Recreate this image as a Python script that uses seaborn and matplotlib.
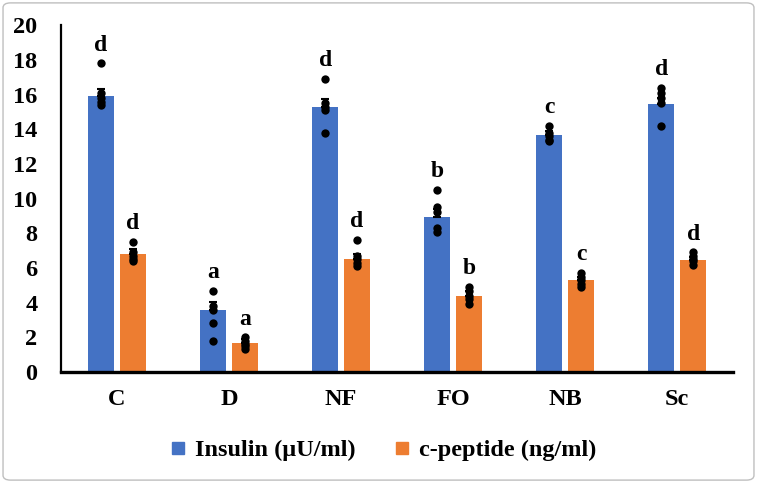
import numpy as np
import pandas as pd
import matplotlib
matplotlib.use("Agg")
import matplotlib.pyplot as plt
import seaborn as sns
from matplotlib.patches import FancyBboxPatch
from matplotlib.lines import Line2D

groups = ["C", "D", "NF", "FO", "NB", "Sc"]
series = ["Insulin (\u00b5U/ml)", "c-peptide (ng/ml)"]
insulin_mean = [15.9, 3.55, 15.3, 8.95, 13.65, 15.45]
cpep_mean = [6.8, 1.7, 6.5, 4.4, 5.3, 6.45]
insulin_err = [0.45, 0.5, 0.45, 0.45, 0.25, 0.35]
cpep_err = [0.3, 0.2, 0.3, 0.25, 0.2, 0.2]
insulin_pts = [
    [17.8, 16.1, 15.8, 15.6, 15.4],
    [4.7, 3.8, 3.6, 2.8, 1.8],
    [16.9, 15.5, 15.3, 15.1, 13.8],
    [10.5, 9.5, 9.2, 8.3, 8.1],
    [14.2, 13.8, 13.6, 13.4, 13.3],
    [16.4, 16.1, 15.8, 15.5, 14.2],
]
cpep_pts = [
    [7.5, 6.9, 6.7, 6.5, 6.4],
    [2.0, 1.8, 1.6, 1.5, 1.3],
    [7.6, 6.7, 6.5, 6.3, 6.1],
    [4.9, 4.7, 4.4, 4.2, 3.9],
    [5.7, 5.5, 5.3, 5.1, 4.9],
    [6.9, 6.7, 6.5, 6.4, 6.2],
]
insulin_letters = ["d", "a", "d", "b", "c", "d"]
cpep_letters = ["d", "a", "d", "b", "c", "d"]
yticks = [0, 2, 4, 6, 8, 10, 12, 14, 16, 18, 20]

df = pd.DataFrame({
    "group": groups * 2,
    "series": [series[0]] * 6 + [series[1]] * 6,
    "value": insulin_mean + cpep_mean,
})

colors = ["#4472C4", "#ED7D31"]
serif = "Liberation Serif"
fs = 17.5

fig = plt.figure(figsize=(7.57, 4.83), dpi=100)
ax = fig.add_axes([0.0806, 0.2298, 0.888, 0.718])

sns.barplot(data=df, x="group", y="value", hue="series", palette=colors,
            width=0.57, gap=0.2, errorbar=None, ax=ax, saturation=1)

means = [insulin_mean, cpep_mean]
errs = [insulin_err, cpep_err]
pts = [insulin_pts, cpep_pts]
letters = [insulin_letters, cpep_letters]

bar_conts = list(ax.containers)
for si, cont in enumerate(bar_conts):
    for gi, patch in enumerate(cont.patches):
        xc = patch.get_x() + patch.get_width() / 2
        ax.errorbar([xc], [means[si][gi]], yerr=[[0], [errs[si][gi]]],
                    fmt="none", ecolor="black", elinewidth=1.5, capsize=3, capthick=1.5, zorder=4)
        p = pts[si][gi]
        ax.scatter([xc] * len(p), p, s=36, color="black", zorder=5, linewidths=0)
        top = max(max(p), means[si][gi] + errs[si][gi])
        ax.text(xc, top + 0.45, letters[si][gi], ha="center", va="bottom",
                fontsize=17, fontweight="bold", family=serif)

ax.set_ylim(0, 20)
ax.set_xlim(-0.5, 5.5)
ax.set_yticks(yticks)
ax.set_yticklabels([str(t) for t in yticks], fontsize=fs, fontweight="bold", family=serif)
ax.set_xticks(range(len(groups)))
ax.set_xticklabels(groups, fontsize=fs, fontweight="bold", family=serif)
ax.tick_params(axis="x", length=0, pad=12)
ax.tick_params(axis="y", length=0, pad=17)
ax.set_xlabel("")
ax.set_ylabel("")
for s in ["top", "right"]:
    ax.spines[s].set_visible(False)
ax.spines["left"].set_linewidth(1.6)
ax.spines["bottom"].set_linewidth(2.4)

ax.get_legend().remove()
h = [Line2D([], [], marker="s", linestyle="none", markersize=8.5, color=c) for c in colors]
fig.legend(h, series, loc="center", bbox_to_anchor=(0.503, 0.068), ncol=2, frameon=False,
           prop={"family": serif, "weight": "bold", "size": fs}, handletextpad=0.2,
           columnspacing=1.4, handlelength=1.0)

fig.patches.append(FancyBboxPatch((0.004, 0.006), 0.992, 0.988, boxstyle="round,pad=0,rounding_size=0.01",
                                  transform=fig.transFigure, fill=False, edgecolor="#BFBFBF", linewidth=1))

fig.savefig("out.png", dpi=100)
